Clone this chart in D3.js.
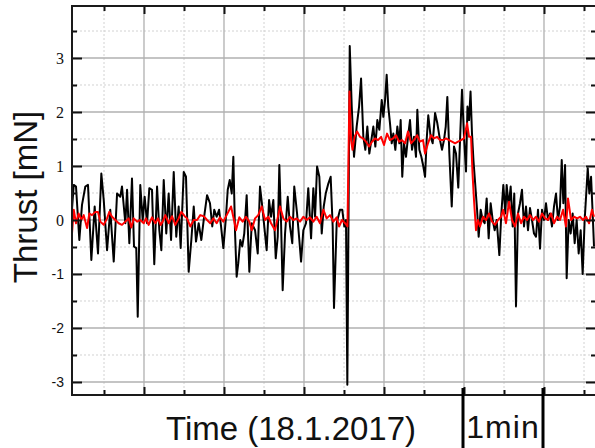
<!DOCTYPE html>
<html><head><meta charset="utf-8">
<script src="https://cdn.jsdelivr.net/npm/d3@7"></script>
<style>html,body{margin:0;padding:0;background:#fff;overflow:hidden} svg{display:block}</style>
</head><body><svg id="c" width="595" height="448"></svg>
<script>
// ---- data (time in s, thrust in mN) ----
const blackTime = [6.0,7.3,9.0,11.5,13.5,16.0,18.0,20.5,23.0,25.5,28.0,29.8,32.3,34.7,37.3,39.8,42.2,43.5,46.0,47.3,49.0,51.0,52.5,54.2,55.3,57.2,59.0,60.5,62.3,64.0,66.0,67.7,69.8,71.5,73.0,74.8,76.7,78.5,80.3,82.3,84.2,86.0,87.5,89.8,91.5,93.5,95.5,97.3,99.0,101.0,103.0,104.8,107.3,
109.5,111.2,112.7,114.5,116.3,117.8,119.5,121.3,122.8,124.3,125.8,127.0,128.3,129.5,130.7,132.2,133.7,135.2,137.0,139.0,140.8,143.3,145.3,147.0,148.7,150.2,152.0,153.8,155.3,157.0,158.8,160.3,161.5,162.8,164.0,165.8,167.8,169.5,171.2,172.7,174.8,176.5,177.8,179.5,181.5,183.2,185.3,187.0,188.3,189.8,191.5,193.3,194.8,196.3,198.2,200.0,201.5,202.5,204.5,207.0,208.7,210.2,211.5,212.5,
214.3,215.8,217.5,219.5,221.3,222.8,224.5,226.0,227.5,229.0,230.5,232.0,233.5,235.0,236.5,238.3,239.5,240.8,242.0,243.2,244.5,245.8,247.0,248.5,250.0,251.5,252.5,253.7,255.0,256.5,258.0,259.5,261.0,262.5,264.0,265.0,266.5,268.0,269.5,270.8,272.0,273.2,275.0,276.5,278.3,280.0,282.0,283.5,285.0,286.3,287.5,289.0,290.8,292.5,294.0,295.7,297.2,298.5,300.0,301.5,302.6,303.8,304.9,306.0,307.1,308.3,
309.8,311.0,312.5,314.0,315.5,317.0,318.5,320.0,321.5,323.0,324.5,326.5,328.0,329.5,331.0,332.0,333.5,335.0,336.5,337.7,339.0,340.5,342.0,343.5,345.0,346.5,348.0,349.5,351.0,352.5,354.0,355.5,357.0,358.5,360.0,361.5,363.0,364.5,366.0,367.5,369.0,370.5,372.0,373.3,374.5,375.8,377.0,378.5,380.0,381.5,383.0,384.5,386.0,387.5,389.0,390.5,392.0,392.8,394.0,395.3,396.5,397.5];
const blackThrust = [0.2,0.65,0.62,-0.37,0.28,0.62,0.65,-0.74,0.25,-0.62,0.86,0.37,-0.56,0.19,-0.77,0.49,0.43,0.62,-0.06,0.56,-0.43,0.77,-0.49,-0.52,-1.79,0.65,0,0.43,-0.06,0.59,0.56,-0.82,0.62,-0.19,-0.56,0.74,-0.25,0.49,-0.37,0.89,-0.31,0.25,-0.52,0.89,0.80,-0.96,-0.37,0.25,-0.40,-0.06,-0.37,0,0.46,
0.31,-0.12,0.19,0.06,0.19,-0.12,-0.52,0,0.56,0.74,0.49,1.17,-0.25,-1.05,-0.80,-0.37,-0.49,-0.25,0.46,-0.96,-0.06,-0.19,-0.62,0.62,0.25,-0.12,-0.56,0.37,0.06,0.37,-0.71,-0.31,1.02,-0.06,-1.30,-0.25,0.43,-0.12,-0.43,0.62,0.12,-0.37,-0.77,-0.19,-0.06,0.59,-0.34,0.59,0.06,0.99,0.80,-0.25,0.25,0.49,0.67,0.80,-0.12,-1.63,-0.06,0.19,0.19,-0.12,0,-3.05,
3.22,2.10,1.17,1.73,2.10,2.62,1.54,1.30,1.73,1.23,1.48,1.73,1.36,1.85,1.67,2.22,1.91,2.22,2.69,2.10,1.79,1.42,1.60,1.30,1.73,1.42,1.85,0.80,1.42,1.17,1.54,1.85,1.30,1.54,1.17,2.04,1.30,1.17,0.99,0.80,1.48,1.94,1.54,1.42,1.98,1.79,1.48,1.30,1.48,1.73,2.28,1.23,0.25,1.36,1.23,0.60,1.60,2.41,1.54,0.90,2.10,1.85,2.38,1.60,1.10,0.70,
0.19,-0.31,0.19,0,-0.06,0.40,-0.34,0.31,0,-0.19,0,-0.65,0.12,0.65,0.12,0.65,0.25,0.62,-0.12,0.49,-1.60,0.12,0.31,0.56,-0.12,0.25,-0.19,0.22,0,-0.25,-0.31,0.19,-0.53,0.19,0,0.31,0,0.12,-0.12,0.25,0.49,0,0.25,1.11,0.31,1.02,-1.08,0,-0.25,0.12,-0.43,0,-0.62,-0.19,-1.0,0,0.62,0.96,0.49,0.80,0.12,-0.49];

const redTime = [6.0,7.3,9.0,11.0,13.0,14.8,17.3,19.0,21.0,23.5,25.5,27.2,29.8,32.3,34.0,36.0,38.5,41.0,43.5,46.0,48.5,50.5,52.3,54.8,57.2,59.8,61.5,63.5,66.0,68.5,70.5,72.5,74.0,76.0,78.5,81.0,83.5,86.0,88.0,90.5,92.3,94.7,97.3,99.8,102.2,104.8,107.3,109.7,
112.0,114.5,117.0,119.5,122.0,125.3,127.5,129.0,131.5,134.0,136.5,139.0,140.8,143.3,145.7,148.3,150.8,153.2,155.3,158.3,160.7,162.0,164.5,167.0,169.5,172.0,174.5,177.0,179.5,182.0,184.5,187.0,189.5,192.0,194.5,197.0,199.5,202.0,204.5,206.3,208.5,210.8,212.6,
214.1,215.3,216.4,217.9,219.8,222.0,224.3,226.5,228.8,231.0,233.3,235.5,237.8,240.0,242.3,244.5,246.8,249.0,251.3,253.5,255.8,258.0,260.3,262.5,264.8,267.0,269.3,270.8,273.0,275.3,277.5,279.8,282.0,284.3,286.5,288.8,291.0,293.3,295.5,297.8,300.0,302.3,303.8,305.3,306.4,307.5,309.0,
310.5,312.0,314.3,316.5,318.8,321.0,323.3,325.5,327.8,329.3,331.5,333.8,336.0,338.3,340.5,342.8,345.0,347.3,349.5,351.8,354.0,356.3,358.5,360.8,363.0,365.3,367.5,369.8,372.0,374.3,376.5,378.0,380.3,382.5,384.8,387.0,389.3,391.5,393.8,396.0,397.5];
const redThrust = [-0.25,0.19,-0.06,0.12,0,0.09,-0.15,0.12,0.09,0.15,0.15,-0.03,-0.09,0.03,0.15,0.06,0,-0.06,-0.09,-0.03,0.03,-0.14,0.03,-0.03,0,-0.06,0.03,-0.09,0.05,-0.06,0.03,-0.09,-0.03,0.09,-0.06,0.07,-0.09,0.03,0.15,0.07,0.03,-0.12,0,0,0.09,0.07,0,-0.06,
0.03,-0.06,0.05,-0.03,0.09,0.25,0,-0.19,0.05,-0.03,0.06,-0.03,-0.19,0.03,0.09,0.25,0,0.06,-0.06,-0.19,0.09,0.25,0.03,-0.03,0.06,0,0.03,-0.03,0.06,0,0.05,-0.03,0.06,-0.06,0.19,0.03,0.09,-0.03,0.05,-0.12,0,-0.06,-0.12,
2.38,1.48,1.30,1.54,1.64,1.54,1.51,1.45,1.36,1.45,1.51,1.48,1.54,1.39,1.60,1.48,1.51,1.57,1.45,1.48,1.42,1.64,1.42,1.48,1.57,1.45,1.48,1.23,1.42,1.57,1.51,1.54,1.48,1.48,1.51,1.48,1.45,1.42,1.45,1.48,1.51,1.79,1.54,1.54,0.86,0.37,-0.19,
0,-0.12,0.06,0,0.12,-0.03,-0.09,0,0.06,0.19,-0.06,0.34,0,-0.12,0.12,-0.06,0.06,0,0.09,0,0.06,-0.03,0.12,0.03,0,0.12,-0.06,0.06,0,0.19,-0.12,0.40,0,0.06,0.03,0.06,0,0.06,-0.06,0.19,0.06];

const timeMajor = [60,120,180,240,300,360];
const timeMinor = [30,90,150,210,270,330,390];
const yMajor = [-3,-2,-1,0,1,2,3];
const yMinor = [-2.5,-1.5,-0.5,0.5,1.5,2.5,3.5];
const yTickLabels = ["-3","-2","-1","0","1","2","3"];
const xTitle = "Time (18.1.2017)";
const yTitle = "Thrust [mN]";
const bracketTimes = [300,360];
const bracketLabel = "1min";

// ---- drawing ----
const SANS = "'Liberation Sans', Arial, sans-serif";
const SERIF = "'Liberation Serif', 'Times New Roman', serif";
const svg = d3.select("#c");
const L = 72, R = 596, T = 6, B = 395;
const x = d3.scaleLinear().domain([6, 399]).range([L, R]);
const y = d3.scaleLinear().domain([-3.241, 3.963]).range([B, T]);

svg.append("defs").append("clipPath").attr("id","clip")
  .append("rect").attr("x",L).attr("y",T).attr("width",R-L).attr("height",B-T);

const grid = svg.append("g");
grid.selectAll(".vmin").data(timeMinor).join("line")
  .attr("x1",d=>x(d)).attr("x2",d=>x(d)).attr("y1",T).attr("y2",B)
  .attr("stroke","#d2d2d2").attr("stroke-width",1).attr("stroke-dasharray","2,2");
grid.selectAll(".hmin").data(yMinor).join("line")
  .attr("x1",L).attr("x2",R).attr("y1",d=>y(d)).attr("y2",d=>y(d))
  .attr("stroke","#d2d2d2").attr("stroke-width",1).attr("stroke-dasharray","2,2");
grid.selectAll(".vmaj").data(timeMajor).join("line")
  .attr("x1",d=>x(d)).attr("x2",d=>x(d)).attr("y1",T).attr("y2",B)
  .attr("stroke","#b0b0b0").attr("stroke-width",1.3);
grid.selectAll(".hmaj").data(yMajor).join("line")
  .attr("x1",L).attr("x2",R).attr("y1",d=>y(d)).attr("y2",d=>y(d))
  .attr("stroke","#b0b0b0").attr("stroke-width",1.3);

const line = d3.line().x(d=>x(d[0])).y(d=>y(d[1]));
const blackData = blackTime.map((t,i)=>[t,blackThrust[i]]);
const redData = redTime.map((t,i)=>[t,redThrust[i]]);
const plot = svg.append("g").attr("clip-path","url(#clip)");
plot.append("path").datum(blackData).attr("d",line)
  .attr("fill","none").attr("stroke","#000").attr("stroke-width",2).attr("stroke-linejoin","round");
plot.append("path").datum(redData).attr("d",line)
  .attr("fill","none").attr("stroke","#ff0000").attr("stroke-width",2).attr("stroke-linejoin","round");

function styleAxis(g, w){
  g.select(".domain").remove();
  g.selectAll(".tick line").attr("stroke","#111").attr("stroke-width",w);
}
// left
svg.append("g").attr("transform",`translate(${L},0)`)
  .call(d3.axisLeft(y).tickValues(yMajor).tickSize(-10).tickPadding(8)
    .tickFormat(d=>yTickLabels[yMajor.indexOf(d)]))
  .call(g=>styleAxis(g,2))
  .call(g=>g.selectAll("text")
    .attr("font-family",d=>d<0?SANS:SERIF)
    .attr("font-size",d=>d<0?14:16).attr("fill","#111"));
svg.append("g").attr("transform",`translate(${L},0)`)
  .call(d3.axisLeft(y).tickValues(yMinor).tickSize(-5).tickFormat(""))
  .call(g=>styleAxis(g,2));
// right
svg.append("g").attr("transform",`translate(${R},0)`)
  .call(d3.axisRight(y).tickValues(yMajor).tickSize(-10).tickFormat(""))
  .call(g=>styleAxis(g,2));
svg.append("g").attr("transform",`translate(${R},0)`)
  .call(d3.axisRight(y).tickValues(yMinor).tickSize(-5).tickFormat(""))
  .call(g=>styleAxis(g,2));
// top
svg.append("g").attr("transform",`translate(0,${T})`)
  .call(d3.axisTop(x).tickValues(timeMajor).tickSize(-8).tickFormat(""))
  .call(g=>styleAxis(g,2));
svg.append("g").attr("transform",`translate(0,${T})`)
  .call(d3.axisTop(x).tickValues(timeMinor).tickSize(-5).tickFormat(""))
  .call(g=>styleAxis(g,2));
// bottom
svg.append("g").attr("transform",`translate(0,${B})`)
  .call(d3.axisBottom(x).tickValues(timeMajor).tickSize(-8).tickFormat(""))
  .call(g=>styleAxis(g,2));
svg.append("g").attr("transform",`translate(0,${B})`)
  .call(d3.axisBottom(x).tickValues(timeMinor).tickSize(-5).tickFormat(""))
  .call(g=>styleAxis(g,2));

// frame
const frame = svg.append("g").attr("stroke","#1a1a1a").attr("stroke-width",2).attr("fill","none");
frame.append("line").attr("x1",L).attr("x2",R).attr("y1",T).attr("y2",T);
frame.append("line").attr("x1",L).attr("x2",R).attr("y1",B).attr("y2",B);
frame.append("line").attr("x1",L).attr("x2",L).attr("y1",T-1).attr("y2",B+1);

// titles
svg.append("text").text(xTitle).attr("x",291).attr("y",440)
  .attr("text-anchor","middle").attr("font-family",SANS).attr("font-size",33).attr("fill","#111");
svg.append("text").text(yTitle)
  .attr("transform","translate(37,197) rotate(-90)")
  .attr("text-anchor","middle").attr("font-family",SANS).attr("font-size",33).attr("fill","#111");

// 1 min bracket
svg.selectAll(".br").data(bracketTimes).join("line")
  .attr("x1",d=>x(d)-1).attr("x2",d=>x(d)-1).attr("y1",388).attr("y2",448)
  .attr("stroke","#000").attr("stroke-width",3);
svg.append("text").text(bracketLabel).attr("x",(x(bracketTimes[0])+x(bracketTimes[1]))/2-1).attr("y",438)
  .attr("text-anchor","middle").attr("font-family",SANS).attr("font-size",32)
  .attr("letter-spacing",1).attr("fill","#111");
</script></body></html>
